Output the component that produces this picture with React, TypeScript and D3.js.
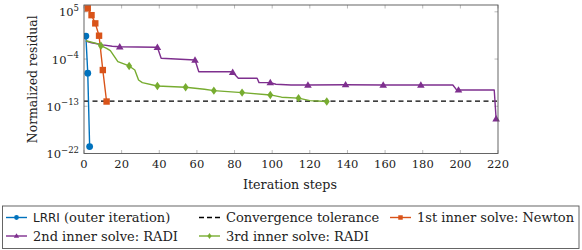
import { useEffect, useRef } from 'react';
import * as d3 from 'd3';

// --- data (x = iteration step, y = normalized residual) ---
const xTicks = [0, 20, 40, 60, 80, 100, 120, 140, 160, 180, 200, 220];
const yTickExps = [5, -4, -13, -22];
const tolerance = 1e-12;

const lrriPts: [number, number][] = [
  [1, 2.4e0], [2, 2e-7], [3, 2.1e-21],
];
const newtonPts: [number, number][] = [
  [2, 4.5e5], [4, 2.3e4], [6, 6.3e2], [8, 2.8e0], [10, 8e-7], [12, 8e-13],
];
const radi2Pts: [number, number][] = [
  [1, 2.7e-1], [4, 1.3e-1], [10, 5e-2], [15, 2.8e-2], [19, 2.2e-2], [38, 1.8e-2],
  [39, 1.7e-2], [41, 1.4e-4], [59, 6.6e-5], [61, 3.9e-7], [78, 3.9e-7], [79, 3e-7],
  [82, 2.2e-8], [92, 2.2e-8], [93, 3.2e-9], [99, 3.2e-9], [102, 1.6e-9], [110, 1.15e-9],
  [119, 1.15e-9], [139, 1.3e-9], [159, 1.15e-9], [179, 1.15e-9], [196, 1.15e-9],
  [198, 1.3e-10], [199, 1.3e-10], [218, 1.3e-10], [219, 4e-16],
];
const radi2Marks = [19, 39, 59, 79, 99, 119, 139, 159, 179, 199, 219];
const radi3Pts: [number, number][] = [
  [1, 3.1e-1], [8, 7.2e-2], [9, 3.5e-2], [12, 1.1e-2], [14, 3.9e-3], [18, 3.2e-5],
  [24, 4.8e-6], [27, 8.3e-7], [29, 1e-8], [31, 3.2e-9], [39, 7.4e-10], [54, 4.3e-10],
  [64, 1.8e-10], [69, 9.5e-11], [84, 4e-11], [99, 1.45e-11], [105, 5.4e-12],
  [114, 3.5e-12], [120, 1.2e-12], [129, 8e-13],
];
const radi3Marks = [9, 24, 39, 54, 69, 84, 99, 114, 129];

const serif = 'DejaVu Serif';

const series = [
  { key: 'lrri', label: 'LRRI (outer iteration)', pts: lrriPts, marks: null as number[] | null, color: '#0072BD', symbol: 'circle' },
  { key: 'newton', label: '1st inner solve: Newton', pts: newtonPts, marks: null, color: '#D95319', symbol: 'square' },
  { key: 'radi2', label: '2nd inner solve: RADI', pts: radi2Pts, marks: radi2Marks, color: '#7E2F8E', symbol: 'triangle' },
  { key: 'radi3', label: '3rd inner solve: RADI', pts: radi3Pts, marks: radi3Marks, color: '#77AC30', symbol: 'diamond' },
];

// draw one marker symbol centred at (cx, cy)
const drawMark = (g: any, symbol: string, cx: number, cy: number, color: string, s = 1) => {
  if (symbol === 'circle') {
    g.append('circle').attr('cx', cx).attr('cy', cy).attr('r', 3.4 * s).attr('fill', color);
  } else if (symbol === 'square') {
    const h = 3.2 * s;
    g.append('rect').attr('x', cx - h).attr('y', cy - h).attr('width', 2 * h).attr('height', 2 * h).attr('fill', color);
  } else if (symbol === 'triangle') {
    const h = 3.8 * s;
    g.append('path').attr('d', `M${cx},${cy - h}L${cx + h},${cy + h * 0.7}L${cx - h},${cy + h * 0.7}Z`).attr('fill', color);
  } else {
    const w = 3 * s, h = 4.2 * s;
    g.append('path').attr('d', `M${cx},${cy - h}L${cx + w},${cy}L${cx},${cy + h}L${cx - w},${cy}Z`).attr('fill', color);
  }
};

function App() {
  const svgRef = useRef<SVGSVGElement>(null);

  useEffect(() => {
    const width = 582;
    const height = 250;
    const left = 84, right = 498, top = 5, bottom = 153.5;

    const svg = d3.select(svgRef.current);
    svg.selectAll('*').remove();
    svg.attr('width', width).attr('height', height);

    const x = d3.scaleLinear().domain([0, 220]).range([left, right]);
    const y = d3.scaleLog().domain([1e-22, Math.pow(10, 6.3)]).range([bottom, top]);

    // ticks (inside, on all four sides)
    const tickColor = '#bbbbbb';
    const tl = 3.5;
    xTicks.forEach(t => {
      svg.append('line').attr('x1', x(t)).attr('x2', x(t)).attr('y1', bottom).attr('y2', bottom - tl).attr('stroke', tickColor);
      svg.append('line').attr('x1', x(t)).attr('x2', x(t)).attr('y1', top).attr('y2', top + tl).attr('stroke', tickColor);
      svg.append('text')
        .attr('x', x(t)).attr('y', bottom + 14)
        .attr('text-anchor', 'middle')
        .style('font-family', serif).style('font-size', '11.5px').style('fill', '#222')
        .text(t);
    });
    yTickExps.forEach(e => {
      const yy = y(Math.pow(10, e));
      svg.append('line').attr('x1', left).attr('x2', left + tl).attr('y1', yy).attr('y2', yy).attr('stroke', tickColor);
      svg.append('line').attr('x1', right).attr('x2', right - tl).attr('y1', yy).attr('y2', yy).attr('stroke', tickColor);
      const txt = svg.append('text')
        .attr('x', left - 5).attr('y', yy + 4.5)
        .attr('text-anchor', 'end')
        .style('font-family', serif).style('font-size', '11.5px').style('fill', '#222');
      txt.append('tspan').text('10');
      txt.append('tspan').attr('dy', -5.5).style('font-size', '8.5px').text(e < 0 ? `\u2212${-e}` : `${e}`);
    });

    // clip to the axis box
    svg.append('clipPath').attr('id', 'plotclip')
      .append('rect').attr('x', left).attr('y', top - 6).attr('width', right - left + 6).attr('height', bottom - top + 6);

    const plot = svg.append('g').attr('clip-path', 'url(#plotclip)');

    // convergence tolerance
    plot.append('line')
      .attr('x1', left).attr('x2', right)
      .attr('y1', y(tolerance)).attr('y2', y(tolerance))
      .attr('stroke', '#000').attr('stroke-width', 1.3).attr('stroke-dasharray', '5,3.5');

    const line = d3.line<[number, number]>().x(d => x(d[0])).y(d => y(d[1]));

    series.forEach(s => {
      plot.append('path')
        .datum(s.pts)
        .attr('d', line)
        .attr('fill', 'none')
        .attr('stroke', s.color)
        .attr('stroke-width', 1.4)
        .attr('stroke-linejoin', 'round');
      const mk = s.marks ? s.pts.filter(p => s.marks!.includes(p[0])) : s.pts;
      mk.forEach(p => drawMark(plot, s.symbol, x(p[0]), y(p[1]), s.color));
    });

    // axis frame
    svg.append('rect')
      .attr('x', left).attr('y', top).attr('width', right - left).attr('height', bottom - top)
      .attr('fill', 'none').attr('stroke', '#555').attr('stroke-width', 0.9);

    // axis labels
    svg.append('text')
      .attr('x', (left + right) / 2 - 1).attr('y', 189)
      .attr('text-anchor', 'middle')
      .style('font-family', serif).style('font-size', '12.7px').style('fill', '#222')
      .text('Iteration steps');
    svg.append('text')
      .attr('transform', `translate(37,${(top + bottom) / 2}) rotate(-90)`)
      .attr('text-anchor', 'middle')
      .style('font-family', serif).style('font-size', '12.4px').style('fill', '#222')
      .text('Normalized residual');

    // legend
    const lg = svg.append('g');
    lg.append('rect')
      .attr('x', 2.5).attr('y', 206).attr('width', 576.5).attr('height', 42.5)
      .attr('fill', '#fff').attr('stroke', '#555').attr('stroke-width', 0.9);

    const entries = [
      { s: series[0], col: 0, row: 0 },
      { s: null, col: 1, row: 0 },
      { s: series[1], col: 2, row: 0 },
      { s: series[2], col: 0, row: 1 },
      { s: series[3], col: 1, row: 1 },
    ];
    const colX = [6, 199, 390];
    const rowY = [217.5, 236];
    entries.forEach(en => {
      const x0 = colX[en.col];
      const yy = rowY[en.row];
      if (en.s) {
        lg.append('line').attr('x1', x0).attr('x2', x0 + 21).attr('y1', yy).attr('y2', yy)
          .attr('stroke', en.s.color).attr('stroke-width', 1.4);
        drawMark(lg, en.s.symbol, x0 + 10.5, yy, en.s.color, 0.7);
      } else {
        lg.append('line').attr('x1', x0).attr('x2', x0 + 21).attr('y1', yy).attr('y2', yy)
          .attr('stroke', '#000').attr('stroke-width', 1.3).attr('stroke-dasharray', '5,3');
      }
      const label = en.s ? en.s.label : 'Convergence tolerance';
      const t = lg.append('text')
        .attr('x', x0 + 27).attr('y', yy + 4.5)
        .style('font-family', serif).style('font-size', '13px').style('fill', '#222');
      if (label.startsWith('LRRI')) {
        t.append('tspan').style('font-family', 'DejaVu Sans').style('font-size', '12px').text('LRRI');
        t.append('tspan').text(label.slice(4));
      } else {
        t.text(label);
      }
    });
  }, []);

  return <svg ref={svgRef} style={{ position: 'absolute', left: 0, top: 0 }}></svg>;
}

export default App;
